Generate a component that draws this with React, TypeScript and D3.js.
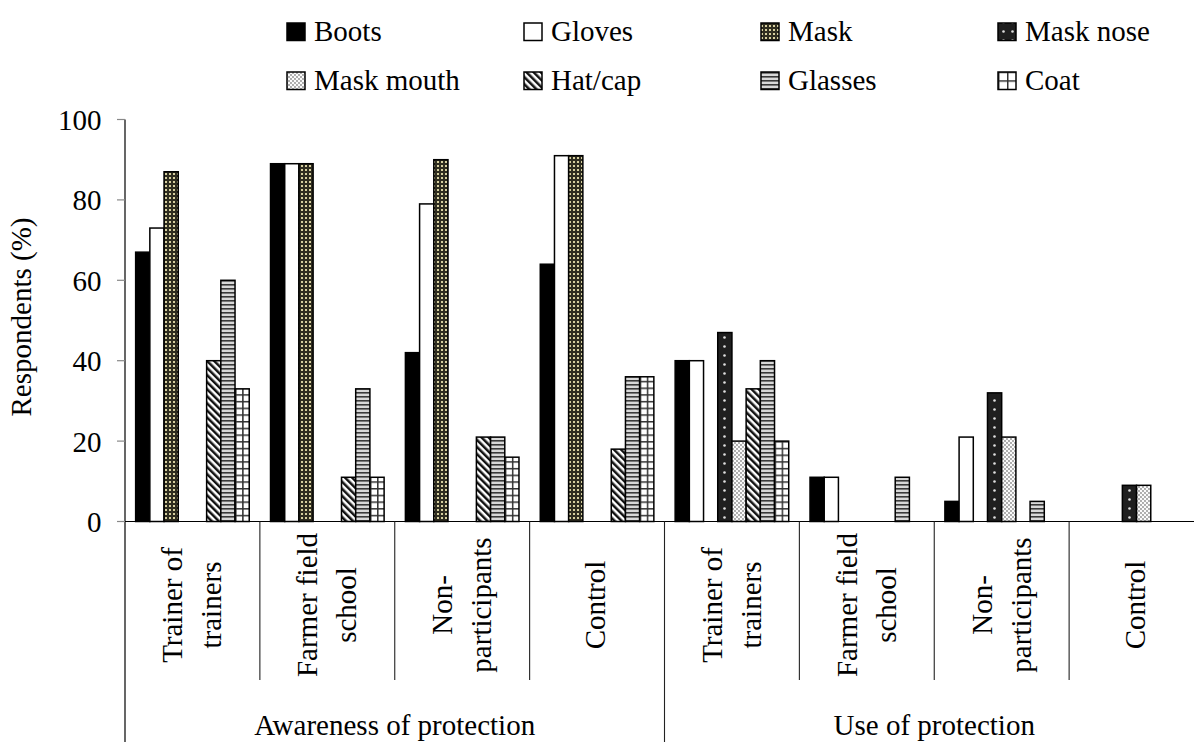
import React from "react";
import * as d3 from "d3";

const seriesNames = ["Boots", "Gloves", "Mask", "Mask nose", "Mask mouth", "Hat/cap", "Glasses", "Coat"];
const groupLabels: string[][] = [
  ["Trainer of", "trainers"],
  ["Farmer field", "school"],
  ["Non-", "participants"],
  ["Control"],
  ["Trainer of", "trainers"],
  ["Farmer field", "school"],
  ["Non-", "participants"],
  ["Control"],
];
const sectionLabels = ["Awareness of protection", "Use of protection"];

const boots = [67, 89, 42, 64, 40, 11, 5, 0];
const gloves = [73, 89, 79, 91, 40, 11, 21, 0];
const mask = [87, 89, 90, 91, 0, 0, 0, 0];
const maskNose = [0, 0, 0, 0, 47, 0, 32, 9];
const maskMouth = [0, 0, 0, 0, 20, 0, 21, 9];
const hatCap = [40, 11, 21, 18, 33, 0, 0, 0];
const glasses = [60, 33, 21, 36, 40, 11, 5, 0];
const coat = [33, 11, 16, 36, 20, 0, 0, 0];

const seriesValues = [boots, gloves, mask, maskNose, maskMouth, hatCap, glasses, coat];
const yTicks = [0, 20, 40, 60, 80, 100];

const FONT = "Liberation Serif, Times New Roman, Times, DejaVu Serif, serif";
const FS = 29;

const plotLeft = 125;
const plotRightFull = 1204;
const y0 = 521.5;
const y100 = 119.5;

const fills = ["#000", "#fff", "url(#pMask)", "url(#pNose)", "url(#pMouth)", "url(#pHat)", "url(#pGlasses)", "COAT"];

export default function App() {
  const y = d3.scaleLinear().domain([0, 100]).range([y0, y100]);
  const idx = d3.range(groupLabels.length).map(String);
  const xg = d3.scaleBand().domain(idx).range([plotLeft, plotRightFull]).paddingInner(0).paddingOuter(0);
  const gw = xg.bandwidth();
  const xs = d3.scaleBand().domain(seriesNames).range([0, gw]).paddingInner(0).paddingOuter(0.75);
  const bw = xs.bandwidth();

  const bars: any[] = [];
  seriesNames.forEach((s, si) => {
    seriesValues[si].forEach((v, gi) => {
      if (v > 0) {
        bars.push({ s, si, gi, v, x: (xg(String(gi)) as number) + (xs(s) as number) });
      }
    });
  });

  const legendCols = [287, 524, 761, 998];
  const legendRows = [41, 90];

  const fillFor = (si: number, key: string) => (si === 7 ? `url(#coat-${key})` : fills[si]);

  const legendItems = seriesNames.map((s, i) => ({
    s,
    i,
    mx: legendCols[i % 4],
    by: legendRows[Math.floor(i / 4)],
  }));

  const textStyle = { fontFamily: FONT, fontSize: FS } as React.CSSProperties;

  return (
    <svg width={1194} height={742} style={{ position: "absolute", left: 0, top: 0, background: "#fff" }}>
      <defs>
        <pattern id="pMask" patternUnits="userSpaceOnUse" width={4} height={4}>
          <rect width={4} height={4} fill="#2f2d20" />
          <rect x={1} y={1} width={2} height={2} fill="#d6cf9f" />
        </pattern>
        <pattern id="pNose" patternUnits="userSpaceOnUse" width={9} height={9}>
          <rect width={9} height={9} fill="#1f1f1f" />
          <circle cx={4.5} cy={4.5} r={1.3} fill="#e0e0e0" />
        </pattern>
        <pattern id="pMouth" patternUnits="userSpaceOnUse" width={4} height={4}>
          <rect width={4} height={4} fill="#fafafa" />
          <circle cx={1} cy={1} r={0.9} fill="#8a8a8a" />
          <circle cx={3} cy={3} r={0.9} fill="#8a8a8a" />
        </pattern>
        <pattern id="pHat" patternUnits="userSpaceOnUse" width={5} height={5} patternTransform="rotate(-45)">
          <rect width={5} height={5} fill="#fff" />
          <rect width={2.5} height={5} fill="#111" />
        </pattern>
        <pattern id="pGlasses" patternUnits="userSpaceOnUse" width={4} height={4}>
          <rect width={4} height={4} fill="#d8d8d8" />
          <rect y={0} width={4} height={1.6} fill="#3a3a3a" />
        </pattern>
        {bars
          .filter((b) => b.si === 7)
          .map((b) => (
            <pattern
              key={b.gi}
              id={`coat-${b.gi}`}
              patternUnits="userSpaceOnUse"
              x={b.x}
              y={y0}
              width={bw / 2}
              height={6.7}
            >
              <rect width={bw / 2} height={6.7} fill="#fff" />
              <rect x={0} y={0} width={1.5} height={6.7} fill="#333" />
              <rect x={0} y={0} width={bw / 2} height={1.5} fill="#333" />
            </pattern>
          ))}
        <pattern id="coat-legend" patternUnits="userSpaceOnUse" x={998} y={71.5} width={9} height={8.75}>
          <rect width={9} height={8.75} fill="#fff" />
          <rect x={0} y={0} width={1.5} height={8.75} fill="#333" />
          <rect x={0} y={0} width={9} height={1.5} fill="#333" />
        </pattern>
      </defs>

      {/* bars */}
      {bars.map((b, i) => (
        <rect
          key={i}
          x={b.x}
          y={y(b.v)}
          width={bw}
          height={y0 - y(b.v)}
          fill={fillFor(b.si, String(b.gi))}
          stroke="#000"
          strokeWidth={1.5}
        />
      ))}

      {/* y axis */}
      <line x1={plotLeft} x2={plotLeft} y1={y100} y2={742} stroke="#000" strokeWidth={1.2} />
      {yTicks.map((t) => (
        <g key={t}>
          <line x1={plotLeft - 8} x2={plotLeft} y1={y(t)} y2={y(t)} stroke="#888" strokeWidth={1.2} />
          <text x={101.5} y={y(t) + 10.5} textAnchor="end" style={textStyle} fill="#000">
            {t}
          </text>
        </g>
      ))}
      <text transform={`translate(31,317) rotate(-90)`} textAnchor="middle" style={textStyle} fill="#000">
        Respondents (%)
      </text>

      {/* x axis */}
      <line x1={plotLeft} x2={1194} y1={y0} y2={y0} stroke="#000" strokeWidth={1.2} />
      {idx.slice(1).map((k) => {
        const gx = xg(k) as number;
        const long = k === "4";
        return <line key={k} x1={gx} x2={gx} y1={y0} y2={long ? 742 : 680} stroke="#222" strokeWidth={1.1} />;
      })}
      {groupLabels.map((lines, gi) => {
        const c = (xg(String(gi)) as number) + gw / 2;
        const offs = lines.length === 1 ? [8] : [-10, 29];
        return lines.map((ln, li) => (
          <text
            key={`${gi}-${li}`}
            transform={`translate(${c + offs[li]},605) rotate(-90)`}
            textAnchor="middle"
            style={textStyle}
            fill="#000"
          >
            {ln}
          </text>
        ));
      })}
      {sectionLabels.map((s, i) => {
        const a = xg(String(i * 4)) as number;
        const b = (xg(String(i * 4 + 3)) as number) + gw;
        return (
          <text key={s} x={(a + b) / 2} y={735} textAnchor="middle" style={textStyle} fill="#000">
            {s}
          </text>
        );
      })}

      {/* legend */}
      {legendItems.map((it) => (
        <g key={it.s}>
          <rect
            x={it.mx}
            y={it.by - 18}
            width={18}
            height={17.5}
            fill={it.i === 7 ? "url(#coat-legend)" : fills[it.i]}
            stroke="#000"
            strokeWidth={1.5}
          />
          <text x={it.mx + 27} y={it.by} style={textStyle} fill="#000">
            {it.s}
          </text>
        </g>
      ))}
    </svg>
  );
}
